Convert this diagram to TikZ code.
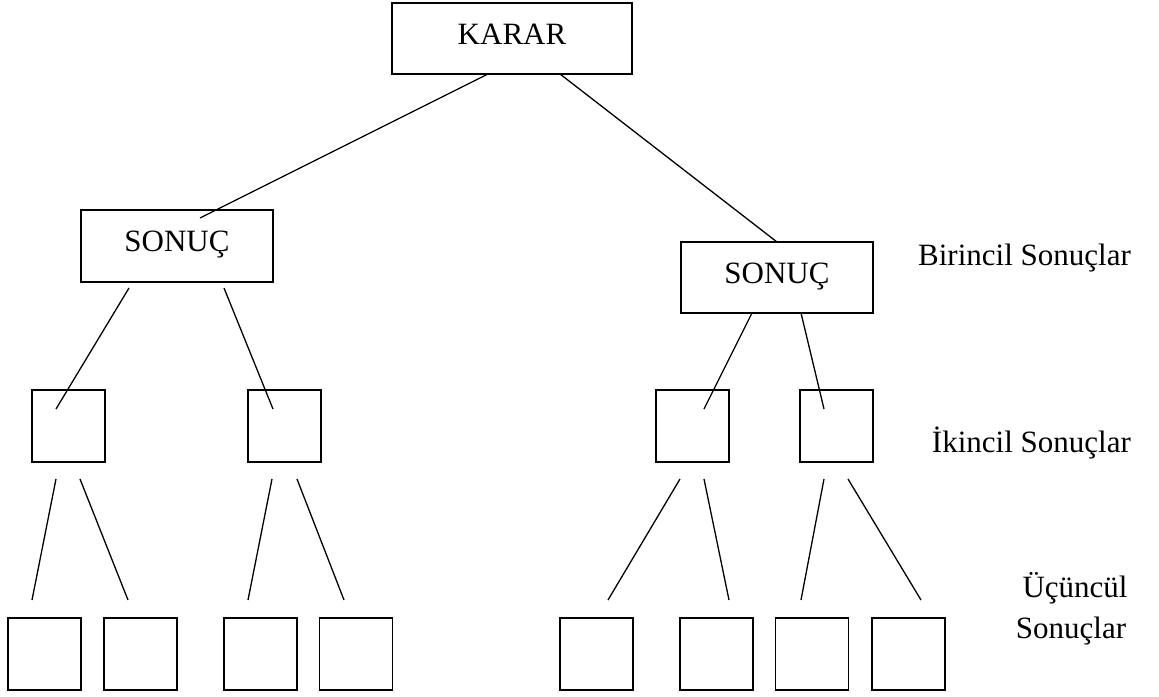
\documentclass[tikz,border=0pt]{standalone}
\usepackage{fontspec}
\setmainfont{Liberation Serif}
\begin{document}
\begin{tikzpicture}[x=1pt,y=-1pt,
  txt/.style={font=\fontsize{31}{36}\selectfont},
  box/.style={draw, line width=1.5pt, inner sep=0pt, minimum width=192pt, minimum height=71pt,
              txt, text height=21pt, text depth=10pt},
  sq/.style={draw, line width=1.5pt, inner sep=0pt, minimum width=73pt, minimum height=72pt},
  lbl/.style={txt, inner sep=0pt, anchor=base east},
  lbc/.style={txt, inner sep=0pt, anchor=base},
  conn/.style={line width=1.3pt}]
\useasboundingbox (0,0) rectangle (1159,696);
% main nodes
\node[box, minimum width=240pt] (karar) at (512,38.5) {KARAR};
\node[box, minimum height=72pt] (sL) at (177,246) {SONUÇ};
\node[box] (sR) at (777,277.5) {SONUÇ};
% secondary
\node[sq] (a1) at (68.5,426) {};
\node[sq] (a2) at (284.5,426) {};
\node[sq] (a3) at (692.5,426) {};
\node[sq] (a4) at (836.5,426) {};
% tertiary
\node[sq] (b1) at (44.5,654) {};
\node[sq] (b2) at (140.5,654) {};
\node[sq] (b3) at (260.5,654) {};
\node[sq] (b4) at (356,654) {};
\node[sq] (b5) at (596.5,654) {};
\node[sq] (b6) at (716.5,654) {};
\node[sq] (b7) at (812,654) {};
\node[sq] (b8) at (908.5,654) {};
% labels
\node[lbl] (l1) at (1131,265) {Birincil Sonuçlar};
\node[lbl] (l2) at (1131,452) {İkincil Sonuçlar};
\node[lbc] (l3a) at (1075,597) {Üçüncül};
\node[lbc] (l3b) at (1071,638) {Sonuçlar};
% connector end points
\coordinate (k1) at (488,74);   \coordinate (k1e) at (200,218);
\coordinate (k2) at (560,74);   \coordinate (k2e) at (777,242);
\coordinate (p1) at (129,288);  \coordinate (p1e) at (56,409);
\coordinate (p2) at (224,288);  \coordinate (p2e) at (273,409);
\coordinate (p3) at (752,313);  \coordinate (p3e) at (704,409);
\coordinate (p4) at (801,313);  \coordinate (p4e) at (824,409);
\coordinate (q1) at (56,479);   \coordinate (q1e) at (32,600);
\coordinate (q2) at (80,479);   \coordinate (q2e) at (128,600);
\coordinate (q3) at (272,479);  \coordinate (q3e) at (248,600);
\coordinate (q4) at (297,479);  \coordinate (q4e) at (344,600);
\coordinate (q5) at (680,479);  \coordinate (q5e) at (608,600);
\coordinate (q6) at (704,479);  \coordinate (q6e) at (729,600);
\coordinate (q7) at (824,479);  \coordinate (q7e) at (801,600);
\coordinate (q8) at (848,479);  \coordinate (q8e) at (921,600);
\foreach \s in {k1,k2,p1,p2,p3,p4,q1,q2,q3,q4,q5,q6,q7,q8}
  \draw[conn] (\s) -- (\s e);
\end{tikzpicture}
\end{document}
